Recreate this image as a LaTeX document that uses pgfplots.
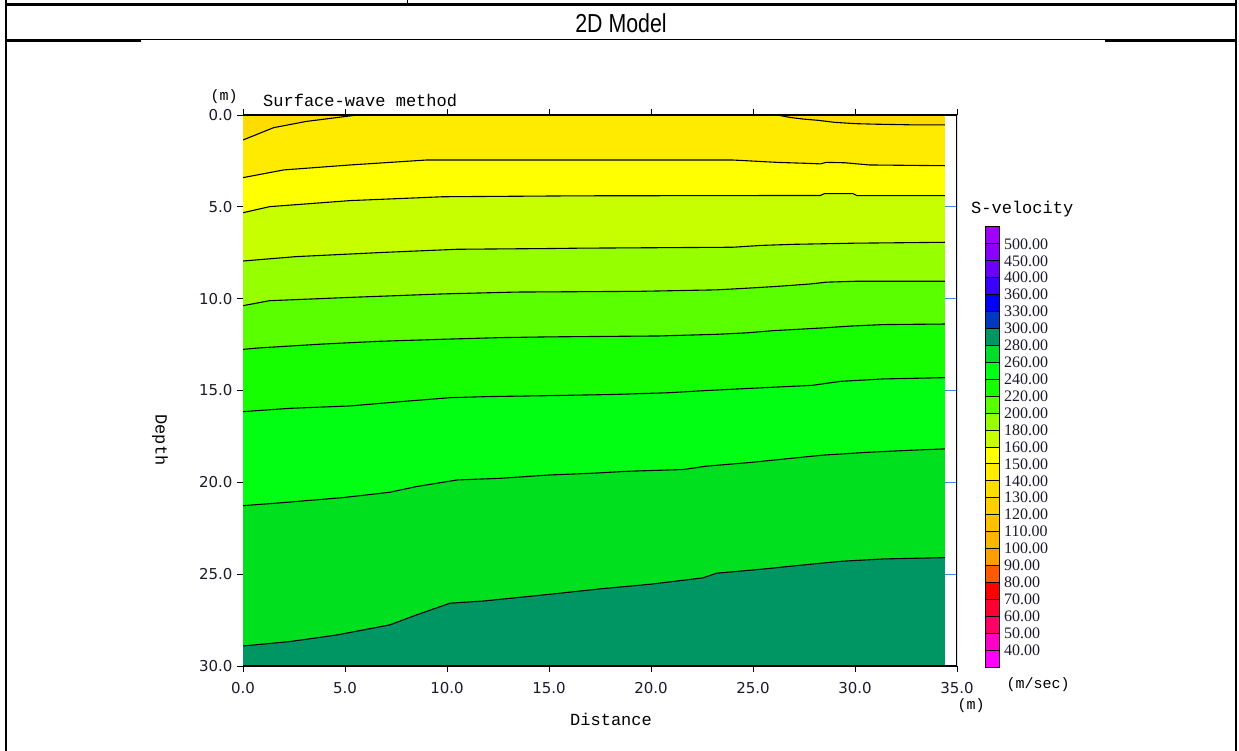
\documentclass[border=0pt]{standalone}
\usepackage{fontspec}
\usepackage{pgfplots}
\pgfplotsset{compat=1.18}
\usepackage{pgfplotstable}
\setmainfont{Liberation Serif}
\newfontfamily\monof{Liberation Mono}
\newfontfamily\tickf{DejaVu Sans}
\newfontfamily\sansf{Liberation Sans}
\definecolor{c0}{HTML}{FFDC00}
\definecolor{c1}{HTML}{FFEB00}
\definecolor{c2}{HTML}{FFFF00}
\definecolor{c3}{HTML}{C8FF00}
\definecolor{c4}{HTML}{96FF00}
\definecolor{c5}{HTML}{5AFF00}
\definecolor{c6}{HTML}{16FF00}
\definecolor{c7}{HTML}{00FF12}
\definecolor{c8}{HTML}{00E01E}
\definecolor{c9}{HTML}{009664}
\definecolor{labc}{HTML}{1A1A2A}
\definecolor{bluetick}{HTML}{3C8CDC}

\pgfplotstableread{
x y
0 1.36
1.5 0.69
3.1 0.35
4.6 0.14
5.6 0
26.2 0
26.8 0.13
27.45 0.22
28.2 0.29
29.0 0.40
30.0 0.47
31.0 0.50
33.0 0.54
34.4 0.54
}\bA
\pgfplotstableread{
x y
0 3.41
2.0 2.99
5.25 2.72
9.0 2.45
24.0 2.45
26.2 2.58
27.6 2.63
28.3 2.66
28.6 2.58
29.5 2.60
30.7 2.72
34.4 2.76
}\bB
\pgfplotstableread{
x y
0 5.32
1.3 4.99
5.25 4.66
9.8 4.45
16.5 4.40
28.3 4.38
28.5 4.28
29.9 4.28
30.1 4.39
34.4 4.39
}\bC
\pgfplotstableread{
x y
0 7.95
2.6 7.71
6.9 7.48
10.5 7.31
15.0 7.27
16.5 7.25
24.0 7.20
25.4 7.10
27.0 7.04
29.9 6.98
34.4 6.93
}\bD
\pgfplotstableread{
x y
0 10.38
1.3 10.11
5.25 9.93
9.8 9.74
13.4 9.64
19.45 9.60
23.2 9.52
24.7 9.43
26.2 9.33
27.8 9.20
28.6 9.10
30.1 9.05
34.4 9.05
}\bE
\pgfplotstableread{
x y
0 12.76
0.8 12.68
3.9 12.47
6.7 12.32
9.8 12.21
12.6 12.12
15.0 12.08
20.4 12.03
23.2 11.94
24.7 11.86
26.0 11.74
28.3 11.60
29.8 11.49
31.4 11.41
34.4 11.38
}\bF
\pgfplotstableread{
x y
0 16.15
2.3 15.97
5.25 15.84
7.8 15.60
10.15 15.39
12.1 15.33
15.0 15.28
18.0 15.22
20.9 15.12
22.4 15.02
24.9 14.88
27.9 14.72
29.3 14.50
31.4 14.37
34.4 14.30
}\bG
\pgfplotstableread{
x y
0 21.27
2.0 21.10
4.9 20.83
7.2 20.54
8.5 20.23
10.5 19.87
12.6 19.78
15.0 19.60
17.2 19.50
18.8 19.40
21.6 19.30
22.7 19.12
24.85 18.92
26.8 18.70
28.4 18.52
30.7 18.36
33.0 18.24
34.4 18.18
}\bH
\pgfplotstableread{
x y
0 28.91
2.3 28.67
4.6 28.31
7.2 27.76
8.5 27.22
10.15 26.58
11.8 26.46
15.0 26.10
17.5 25.80
19.95 25.55
22.55 25.20
23.2 24.95
25.5 24.72
27.45 24.50
29.3 24.30
31.4 24.17
34.4 24.10
}\bI

\begin{document}
\begin{tikzpicture}[x=1pt,y=1pt]
\useasboundingbox (0,0) rectangle (1239,-751);
% table frame
\draw[line width=2.5pt] (6,0) -- (6,-751);
\draw[line width=2.5pt] (1236,0) -- (1236,-751);
\draw[line width=2.5pt] (6,-4.5) -- (1236,-4.5);
\draw[line width=1pt] (407,0) -- (407,-4.5);
\draw[line width=1pt] (6,-39.5) -- (1236,-39.5);
\draw[line width=2.5pt] (6,-40.5) -- (141,-40.5);
\draw[line width=2.5pt] (1105,-40.5) -- (1236,-40.5);
\node[font=\sansf\fontsize{26}{26}\selectfont] at (621,-23) {\scalebox{0.82}[1]{2D Model}};

\begin{axis}[
  at={(243pt,-666pt)}, anchor=south west,
  scale only axis, width=714pt, height=551pt,
  xmin=0, xmax=35, ymin=0, ymax=30, y dir=reverse,
  axis on top,
  xtick={0,5,...,35}, ytick={0,5,...,30},
  tick align=outside, xtick pos=both, xticklabel pos=lower, ytick pos=left,
  major tick length=6pt,
  tick style={black, line width=1pt},
  separate axis lines,
  y axis line style={draw=none},
  x axis line style={line width=1.3pt, black},
  ticklabel style={font=\tickf\fontsize{15}{15}\selectfont, text=labc},
  xticklabel style={yshift=-7pt},
  yticklabel style={xshift=-1pt},
  /pgf/number format/.cd, fixed, fixed zerofill, precision=1, assume math mode=true,
]
\addplot[fill=c0, draw=none] coordinates {(0,0) (34.4,0) (34.4,30) (0,30)} -- cycle;
\addplot[fill=c1, draw=none] table {\bA} -- (axis cs:34.4,30) -- (axis cs:0,30) -- cycle;
\addplot[fill=c2, draw=none] table {\bB} -- (axis cs:34.4,30) -- (axis cs:0,30) -- cycle;
\addplot[fill=c3, draw=none] table {\bC} -- (axis cs:34.4,30) -- (axis cs:0,30) -- cycle;
\addplot[fill=c4, draw=none] table {\bD} -- (axis cs:34.4,30) -- (axis cs:0,30) -- cycle;
\addplot[fill=c5, draw=none] table {\bE} -- (axis cs:34.4,30) -- (axis cs:0,30) -- cycle;
\addplot[fill=c6, draw=none] table {\bF} -- (axis cs:34.4,30) -- (axis cs:0,30) -- cycle;
\addplot[fill=c7, draw=none] table {\bG} -- (axis cs:34.4,30) -- (axis cs:0,30) -- cycle;
\addplot[fill=c8, draw=none] table {\bH} -- (axis cs:34.4,30) -- (axis cs:0,30) -- cycle;
\addplot[fill=c9, draw=none] table {\bI} -- (axis cs:34.4,30) -- (axis cs:0,30) -- cycle;
\addplot[black, line width=1.1pt] table {\bA};
\addplot[black, line width=1.1pt] table {\bB};
\addplot[black, line width=1.1pt] table {\bC};
\addplot[black, line width=1.1pt] table {\bD};
\addplot[black, line width=1.1pt] table {\bE};
\addplot[black, line width=1.1pt] table {\bF};
\addplot[black, line width=1.1pt] table {\bG};
\addplot[black, line width=1.1pt] table {\bH};
\addplot[black, line width=1.1pt] table {\bI};
% right axis line and ticks
\pgfplotsinvokeforeach{5,10,15,20,25}{
  \draw[bluetick, line width=1.2pt] (axis cs:34.4,#1) -- (axis cs:35,#1);
  \draw[black, line width=1pt] (axis cs:35,#1) -- ++(4pt,0);
}
\draw[line width=1.3pt, black] (axis cs:35,0) -- (axis cs:35,30);
\end{axis}

% axis texts
\node[anchor=base west, font=\monof\fontsize{17}{17}\selectfont, inner sep=0] at (263,-107) {Surface-wave method};
\node[font=\monof\fontsize{15}{15}\selectfont] at (224,-97) {(m)};
\node[rotate=-90, font=\monof\fontsize{17}{17}\selectfont] at (160,-440) {Depth};
\node[font=\monof\fontsize{17}{17}\selectfont] at (611,-719) {Distance};
\node[font=\monof\fontsize{15}{15}\selectfont] at (971,-706) {(m)};
\node[anchor=west, font=\monof\fontsize{17}{17}\selectfont, inner sep=0] at (971,-209) {S-velocity};
\node[font=\monof\fontsize{15}{15}\selectfont] at (1038,-685) {(m/sec)};

% colour scale legend
\foreach \c [count=\i from 0] in {A000FF,8A00FF,6A00FF,3A00FF,0000FF,0038C0,009664,00DC28,00FF14,14FF00,5AFF00,96FF00,C8FF00,FFFF00,FFEB00,FFDC00,FFCD00,FFC000,FFB400,FFA000,FF5A00,FF0000,FF0032,FF0064,FF00C8,FF00FF} {
  \definecolor{tmp}{HTML}{\c}
  \filldraw[fill=tmp, draw=black, line width=1pt] (985,{-227-16.923*\i}) rectangle (999,{-227-16.923*(\i+1)});
}
\foreach \l [count=\i from 1] in {500.00,450.00,400.00,360.00,330.00,300.00,280.00,260.00,240.00,220.00,200.00,180.00,160.00,150.00,140.00,130.00,120.00,110.00,100.00,90.00,80.00,70.00,60.00,50.00,40.00} {
  \node[anchor=west, inner sep=0, font=\rmfamily\fontsize{16}{16}\selectfont, text=labc] at (1004,{-227-16.923*\i}) {\l};
}
\end{tikzpicture}
\end{document}
